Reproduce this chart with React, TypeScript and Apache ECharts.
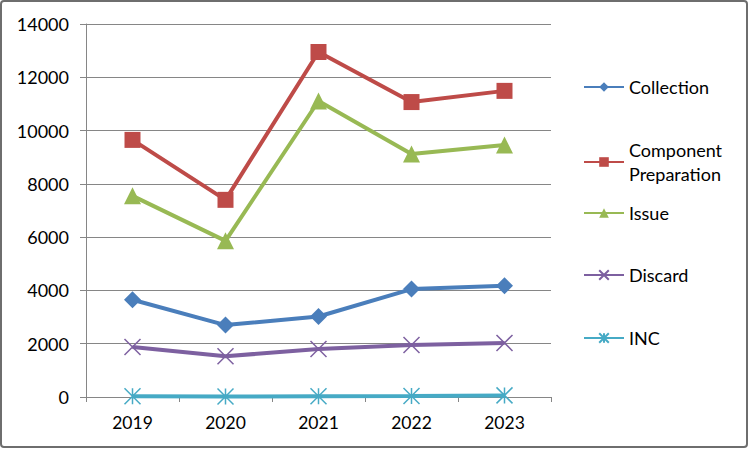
import React, { useEffect, useRef } from "react";
import * as echarts from "echarts";

const years = ["2019", "2020", "2021", "2022", "2023"];
const collection = [3650, 2700, 3020, 4050, 4180];
const componentPreparation = [9650, 7400, 12950, 11070, 11490];
const issue = [7550, 5860, 11110, 9120, 9460];
const discard = [1880, 1530, 1800, 1950, 2030];
const inc = [30, 20, 30, 40, 60];

const FONT = "Lato";
const CROSS = "path://M0,0 L10,10 M10,0 L0,10";
const STAR = "path://M0,0 L10,10 M10,0 L0,10 M5,0 L5,10";

export default function App() {
  const ref = useRef<HTMLDivElement>(null);
  useEffect(() => {
    if (!ref.current) return;
    const chart = echarts.init(ref.current, undefined, { renderer: "svg" });
    const mk = (name: string, data: number[], color: string, symbol: string, size: number, stroked = false) => ({
      name,
      type: "line",
      data,
      symbol,
      symbolSize: size,
      showAllSymbol: true,
      lineStyle: { color, width: 4 },
      itemStyle: stroked
        ? { color: "rgba(0,0,0,0)", borderColor: color, borderWidth: 1.5 }
        : { color, borderColor: color, borderWidth: 0 },
      emphasis: { disabled: true },
    });
    const legendBase = {
      orient: "vertical",
      left: 583,
      padding: 0,
      itemWidth: 40,
      itemHeight: 12,
      itemGap: 6,
      textStyle: { fontFamily: FONT, fontSize: 18, color: "#000", lineHeight: 24 },
      selectedMode: false,
    };
    chart.setOption({
      animation: false,
      backgroundColor: "#fff",
      grid: { left: 86, right: 199, top: 24, bottom: 54 },
      xAxis: {
        type: "category",
        data: years,
        boundaryGap: true,
        axisLine: { lineStyle: { color: "#868686", width: 1 } },
        axisTick: { show: true, inside: false, length: 5, lineStyle: { color: "#868686" } },
        axisLabel: { fontFamily: FONT, fontSize: 17.5, color: "#000", margin: 16 },
      },
      yAxis: {
        type: "value",
        min: 0,
        max: 14000,
        interval: 2000,
        axisLine: { show: true, lineStyle: { color: "#868686", width: 1 } },
        axisTick: { show: true, length: 6, lineStyle: { color: "#868686" } },
        splitLine: { lineStyle: { color: "#868686", width: 1 } },
        axisLabel: {
          fontFamily: FONT,
          fontSize: 18,
          color: "#000",
          margin: 17,
          formatter: (v: number) => String(v),
        },
      },
      legend: [
        { ...legendBase, top: 75, data: ["Collection"] },
        {
          ...legendBase,
          top: 126,
          data: ["Component Preparation"],
          formatter: () => "Component\nPreparation",
          textStyle: { ...legendBase.textStyle, padding: [24, 0, 0, 0] },
        },
        { ...legendBase, top: 201, data: ["Issue"] },
        { ...legendBase, top: 263, data: ["Discard"] },
        { ...legendBase, top: 326, data: ["INC"] },
      ],
      graphic: [
        {
          type: "rect",
          shape: { x: 1, y: 1, width: 746, height: 446, r: 3 },
          style: { fill: "none", stroke: "#6e6e6e", lineWidth: 2 },
          silent: true,
          z: 100,
        },
      ],
      series: [
        mk("Collection", collection, "#4A7EBB", "diamond", 17),
        mk("Component Preparation", componentPreparation, "#BE4B48", "rect", 16),
        mk("Issue", issue, "#98B954", "triangle", 17),
        mk("Discard", discard, "#7D60A0", CROSS, 16, true),
        mk("INC", inc, "#46AAC5", STAR, 16, true),
      ],
    });
    return () => chart.dispose();
  }, []);
  return (
    <div
      ref={ref}
      style={{ position: "fixed", left: 0, top: 0, width: 750, height: 451 }}
    />
  );
}
